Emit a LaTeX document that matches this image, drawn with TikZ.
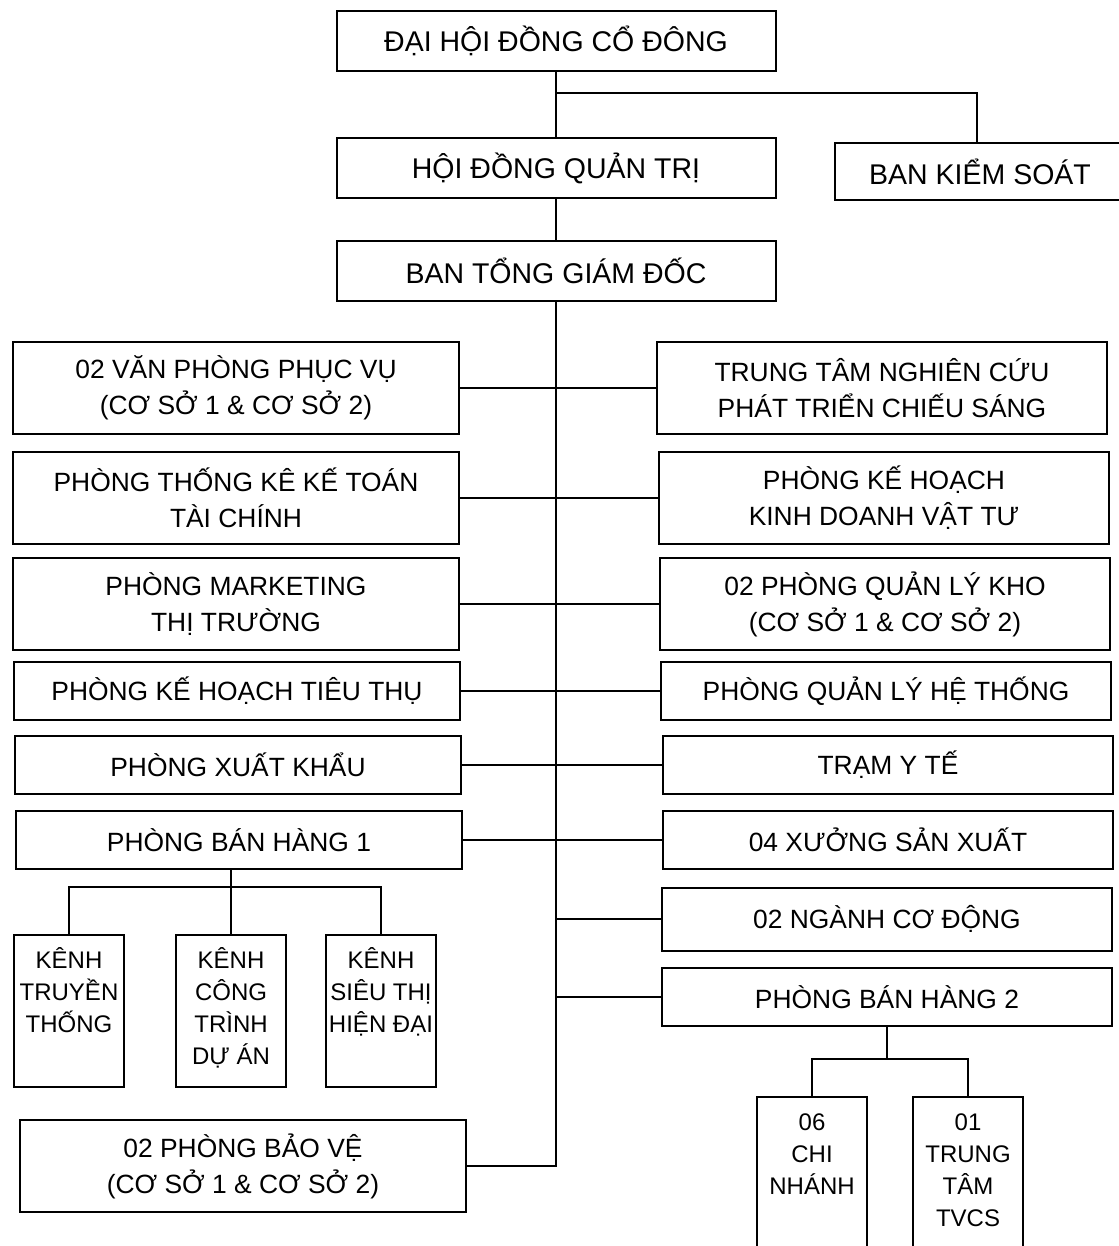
\documentclass[tikz,border=0pt]{standalone}
\usepackage{fontspec}
\setmainfont{Liberation Sans}
\usetikzlibrary{positioning,calc}

\newcommand{\tallbox}[2]{\parbox[t][#1][t]{110pt}{\centering\rule{0pt}{33pt}#2}}

\begin{document}
\begin{tikzpicture}[
  x=1pt, y=1pt,
  line/.style={line width=2pt},
  topbox/.style={
    draw, line width=2pt, align=center,
    minimum width=439pt, minimum height=60pt,
    font=\fontsize{28.5}{34}\selectfont
  },
  unitbox/.style={
    draw, line width=2pt, align=center,
    minimum width=446pt, minimum height=58pt,
    font=\fontsize{26.4}{36}\selectfont
  },
  rbox/.style={unitbox, minimum width=450pt},
  wide/.style={minimum height=92pt},
  chanbox/.style={
    draw, line width=2pt, inner sep=0pt,
    font=\fontsize{24}{32}\selectfont
  }
]
\useasboundingbox (0,0) rectangle (1118,-1246);

% Top levels
\node[topbox] (dhdcd) at (556,-41) {ĐẠI HỘI ĐỒNG CỔ ĐÔNG};
\node[topbox] (hdqt) at (556,-168) {HỘI ĐỒNG QUẢN TRỊ};
\node[topbox, minimum width=330pt, minimum height=57pt] (bks) at (1000,-172) {\hspace*{-40pt}BAN KIỂM SOÁT};
\node[topbox] (btgd) at (556,-271) {BAN TỔNG GIÁM ĐỐC};

% Left column
\node[unitbox, wide] (vp) at (236,-388) {02 VĂN PHÒNG PHỤC VỤ\\(CƠ SỞ 1 \& CƠ SỞ 2)};
\node[unitbox, wide] (tk) at (236,-498) {PHÒNG THỐNG KÊ KẾ TOÁN\\TÀI CHÍNH};
\node[unitbox, wide] (mk) at (236,-604) {PHÒNG MARKETING\\THỊ TRƯỜNG};
\node[unitbox] (khtt) at (237,-691) {PHÒNG KẾ HOẠCH TIÊU THỤ};
\node[unitbox] (xk) at (238,-765) {PHÒNG XUẤT KHẨU};
\node[unitbox] (bh1) at (239,-840) {PHÒNG BÁN HÀNG 1};
\node[unitbox, wide] (bv) at (243,-1166) {02 PHÒNG BẢO VỆ\\(CƠ SỞ 1 \& CƠ SỞ 2)};

% Sales channels
\node[chanbox] (k1) at (69,-1011) {\tallbox{152pt}{KÊNH\\TRUYỀN\\THỐNG}};
\node[chanbox] (k2) at (231,-1011) {\tallbox{152pt}{KÊNH\\CÔNG\\TRÌNH\\DỰ ÁN}};
\node[chanbox] (k3) at (381,-1011) {\tallbox{152pt}{KÊNH\\SIÊU THỊ\\HIỆN ĐẠI}};

% Right column
\node[rbox, wide] (nc) at (882,-388) {TRUNG TÂM NGHIÊN CỨU\\PHÁT TRIỂN CHIẾU SÁNG};
\node[rbox, wide] (kd) at (884,-498) {PHÒNG KẾ HOẠCH\\KINH DOANH VẬT TƯ};
\node[rbox, wide] (qlk) at (885,-604) {02 PHÒNG QUẢN LÝ KHO\\(CƠ SỞ 1 \& CƠ SỞ 2)};
\node[rbox] (qlht) at (886,-691) {PHÒNG QUẢN LÝ HỆ THỐNG};
\node[rbox] (yt) at (888,-765) {TRẠM Y TẾ};
\node[rbox] (xsx) at (888,-840) {04 XƯỞNG SẢN XUẤT};
\node[rbox, minimum height=63pt] (cd) at (887,-919) {02 NGÀNH CƠ ĐỘNG};
\node[rbox] (bh2) at (887,-997) {PHÒNG BÁN HÀNG 2};

% Branches
\node[chanbox] (cn) at (812,-1177) {\tallbox{160pt}{06\\CHI\\NHÁNH}};
\node[chanbox] (tt) at (968,-1177) {\tallbox{160pt}{01\\TRUNG\\TÂM\\TVCS}};

% Top connectors
\coordinate (splitK) at (556,-93);
\draw[line] (dhdcd) -- (hdqt);
\draw[line] (splitK) -| ($(bks.north west)+(143,0)$);
\draw[line] (hdqt) -- (btgd);

% Spine and rows
\draw[line] (btgd.south) |- (bv.east);
\draw[line] (vp.east) -- (nc.west);
\draw[line] (tk.east) -- (kd.west);
\draw[line] (mk.east) -- (qlk.west);
\draw[line] (khtt.east) -- (qlht.west);
\draw[line] (xk.east) -- (yt.west);
\draw[line] (bh1.east) -- (xsx.west);
\draw[line] (cd.west) -- (cd.west -| btgd.south);
\draw[line] (bh2.west) -- (bh2.west -| btgd.south);

% Channel tree
\coordinate (kbar) at (231,-887);
\draw[line] (k2.north |- bh1.south) -- (k2.north);
\draw[line] (k1.north) |- (kbar) -| (k3.north);

% Branch tree
\coordinate (cbar) at (bh2.south |- 0,-1059);
\draw[line] (bh2.south) -- (cbar);
\draw[line] (cn.north) |- (cbar) -| (tt.north);

\end{tikzpicture}
\end{document}
